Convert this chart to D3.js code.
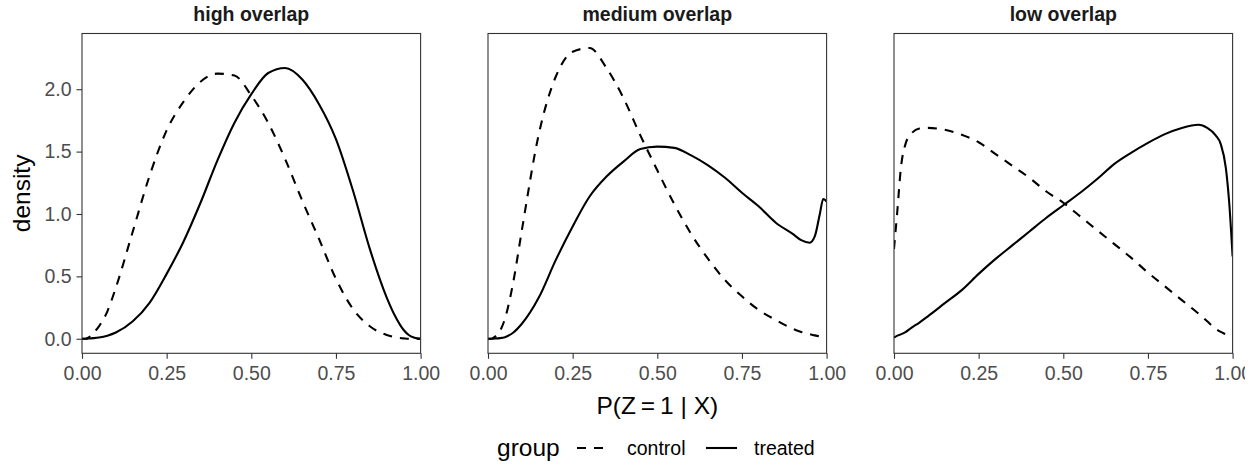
<!DOCTYPE html>
<html>
<head>
<meta charset="utf-8">
<script src="https://cdn.jsdelivr.net/npm/d3@7"></script>
<style>
  body { margin: 0; background: #fff; }
  text { font-family: "Liberation Sans", Arial, sans-serif; }
</style>
</head>
<body>
<div class="chart"></div>
<script>
// propensity grid (x values shared by every curve)
var pGrid = [0, 0.01, 0.02, 0.035, 0.05, 0.075, 0.1, 0.15, 0.2, 0.25, 0.3, 0.35, 0.4, 0.45, 0.5,
  0.55, 0.6, 0.65, 0.7, 0.75, 0.8, 0.85, 0.9, 0.925, 0.95, 0.965, 0.98, 0.99, 1.0];

var panels = ['high overlap', 'medium overlap', 'low overlap'];
var groups = ['control', 'treated'];
var xTicks = [0, 0.25, 0.5, 0.75, 1];
var yTicks = [0, 0.5, 1, 1.5, 2];

// density values
var highControl = [0, 0, 0.01, 0.05, 0.10, 0.22, 0.41, 0.86, 1.31, 1.67, 1.90, 2.06, 2.125, 2.11, 1.95,
  1.73, 1.44, 1.11, 0.80, 0.48, 0.24, 0.10, 0.03, 0.012, 0.003, 0, 0, 0, 0];
var highTreated = [0, 0, 0.002, 0.005, 0.01, 0.025, 0.05, 0.14, 0.29, 0.52, 0.78, 1.09, 1.43, 1.73, 1.96,
  2.13, 2.17, 2.08, 1.88, 1.60, 1.19, 0.72, 0.33, 0.18, 0.07, 0.03, 0.01, 0.003, 0];
var mediumControl = [0, 0, 0.015, 0.06, 0.16, 0.46, 0.87, 1.64, 2.10, 2.30, 2.33, 2.17, 1.93, 1.63, 1.35,
  1.08, 0.84, 0.64, 0.47, 0.34, 0.23, 0.15, 0.08, 0.055, 0.037, 0.027, 0.018, 0.013, 0.01];
var mediumTreated = [0, 0, 0.002, 0.005, 0.013, 0.05, 0.12, 0.33, 0.63, 0.90, 1.14, 1.30, 1.42, 1.52, 1.54,
  1.53, 1.47, 1.39, 1.29, 1.17, 1.06, 0.93, 0.84, 0.79, 0.77, 0.82, 1.00, 1.12, 1.10];
var lowControl = [0.72, 1.03, 1.36, 1.57, 1.64, 1.685, 1.69, 1.675, 1.635, 1.575, 1.48, 1.385, 1.29, 1.18, 1.09,
  0.98, 0.87, 0.76, 0.65, 0.53, 0.42, 0.31, 0.20, 0.14, 0.08, 0.055, 0.035, 0.02, 0.01];
var lowTreated = [0.01, 0.025, 0.035, 0.055, 0.085, 0.13, 0.18, 0.285, 0.39, 0.52, 0.64, 0.75, 0.86, 0.97, 1.07,
  1.17, 1.28, 1.40, 1.49, 1.57, 1.64, 1.69, 1.715, 1.69, 1.63, 1.56, 1.37, 1.09, 0.66];

var series = [
  [highControl, highTreated],
  [mediumControl, mediumTreated],
  [lowControl, lowTreated]
];

var W = 1259, H = 465;
var panelLeft = 82, panelW = 338.6, panelStep = 406;
var panelTop = 33.5, panelBottom = 353.3;

var svg = d3.select('.chart')
  .append('svg')
  .attr('width', W)
  .attr('height', H);

svg.append('clipPath').attr('id', 'pageClip')
  .append('rect').attr('x', 0).attr('y', 0).attr('width', 1245).attr('height', H);

var root = svg.append('g').attr('clip-path', 'url(#pageClip)');

var allVals = [].concat.apply([], series.map(s => [].concat(s[0], s[1])));
var yMax = d3.max(allVals);
var pad = yMax * 0.05;

var yScale = d3.scaleLinear()
  .domain([-pad, yMax + pad])
  .range([panelBottom, panelTop]);

var dashes = { control: '9,8', treated: null };

panels.forEach(function (name, i) {
  var x0 = panelLeft + i * panelStep;
  var xScale = d3.scaleLinear().domain([0, 1]).range([x0, x0 + panelW]);

  // strip title
  root.append('text')
    .attr('x', x0 + panelW / 2)
    .attr('y', 21)
    .attr('text-anchor', 'middle')
    .style('font-size', '19.5px')
    .style('font-weight', 'bold')
    .attr('fill', '#1a1a1a')
    .text(name);

  var clipId = 'clip' + i;
  root.append('clipPath').attr('id', clipId)
    .append('rect')
    .attr('x', x0).attr('y', panelTop)
    .attr('width', panelW).attr('height', panelBottom - panelTop);

  var line = d3.line()
    .x((d, j) => xScale(pGrid[j]))
    .y(d => yScale(d))
    .curve(d3.curveMonotoneX);

  groups.forEach(function (g, k) {
    root.append('path')
      .datum(series[i][k])
      .attr('clip-path', 'url(#' + clipId + ')')
      .attr('d', line)
      .attr('fill', 'none')
      .attr('stroke', '#000')
      .attr('stroke-width', 2.1)
      .attr('stroke-dasharray', dashes[g]);
  });

  // panel border
  root.append('rect')
    .attr('x', x0).attr('y', panelTop)
    .attr('width', panelW).attr('height', panelBottom - panelTop)
    .attr('fill', 'none')
    .attr('stroke', '#333')
    .attr('stroke-width', 1.1);

  // x axis
  var xAxis = root.append('g')
    .attr('transform', 'translate(0,' + panelBottom + ')')
    .call(d3.axisBottom(xScale)
      .tickValues(xTicks)
      .tickFormat(d3.format('.2f'))
      .tickSizeInner(5.5)
      .tickSizeOuter(0)
      .tickPadding(7));
  xAxis.select('.domain').remove();
  xAxis.selectAll('line').attr('stroke', '#333').attr('stroke-width', 1.1);
  xAxis.selectAll('text')
    .attr('fill', '#4d4d4d')
    .style('font-size', '19.5px')
    .style('font-family', '"Liberation Sans", Arial, sans-serif');

  if (i === 0) {
    var yAxis = root.append('g')
      .attr('transform', 'translate(' + x0 + ',0)')
      .call(d3.axisLeft(yScale)
        .tickValues(yTicks)
        .tickFormat(d3.format('.1f'))
        .tickSizeInner(5.5)
        .tickSizeOuter(0)
        .tickPadding(5));
    yAxis.select('.domain').remove();
    yAxis.selectAll('line').attr('stroke', '#333').attr('stroke-width', 1.1);
    yAxis.selectAll('text')
      .attr('fill', '#4d4d4d')
      .style('font-size', '19.5px')
      .style('font-family', '"Liberation Sans", Arial, sans-serif');
  }
});

// axis titles
root.append('text')
  .attr('transform', 'translate(30,' + ((panelTop + panelBottom) / 2) + ') rotate(-90)')
  .attr('text-anchor', 'middle')
  .style('font-size', '24.5px')
  .text('density');

root.append('text')
  .attr('x', panelLeft + (2 * panelStep + panelW) / 2)
  .attr('y', 414)
  .attr('text-anchor', 'middle')
  .style('font-size', '24.5px')
  .attr('xml:space', 'preserve')
  .text('P(Z\u2009=\u20091 | X)');

// legend
var legend = root.append('g');
legend.append('text')
  .attr('x', 497).attr('y', 456)
  .style('font-size', '24.5px')
  .text('group');

var keyX = [577, 706];
var labelX = [627, 754];
groups.forEach(function (g, k) {
  legend.append('line')
    .attr('x1', keyX[k]).attr('x2', keyX[k] + 31)
    .attr('y1', 448).attr('y2', 448)
    .attr('stroke', '#000')
    .attr('stroke-width', 2.1)
    .attr('stroke-dasharray', dashes[g]);
  legend.append('text')
    .attr('x', labelX[k]).attr('y', 455)
    .style('font-size', '19.5px')
    .text(g);
});
</script>
</body>
</html>
